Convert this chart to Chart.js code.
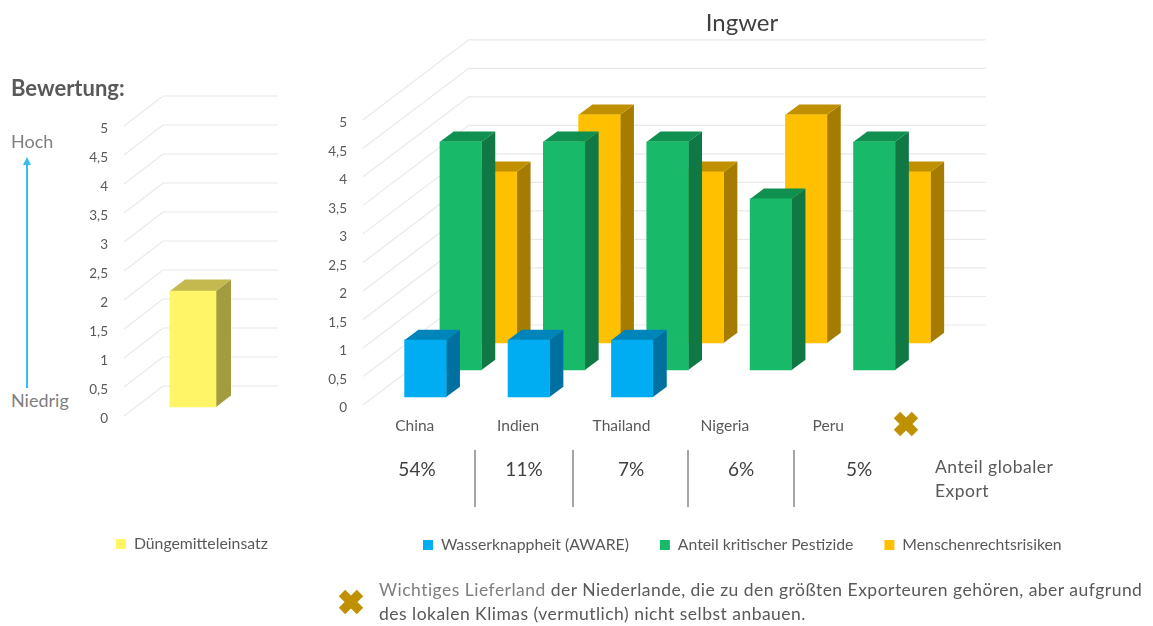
<!DOCTYPE html>
<html lang="de">
<head>
<meta charset="utf-8">
<title>Ingwer</title>
<script src="https://cdn.jsdelivr.net/npm/chart.js@4/dist/chart.umd.min.js"></script>
<style>
html, body { margin: 0; padding: 0; width: 1153px; height: 626px; overflow: hidden; background: #fff; }
body { position: relative; font-family: Lato, sans-serif; color: #595959; }
canvas { position: absolute; top: 0; }
.t { position: absolute; white-space: nowrap; line-height: 1; transform: translateY(-50%); }
.c { transform: translate(-50%, -50%); }
.note { font-size: 17.5px; letter-spacing: 0.48px; }
.rule { position: absolute; top: 450px; height: 57px; width: 2px; background: #a6a6a6; }
svg { position: absolute; overflow: visible; }
</style>
</head>
<body>
<canvas id="leftChart" width="231" height="626" style="left:80px"></canvas>
<canvas id="rightChart" width="862" height="626" style="left:311px"></canvas>

<div class="t" style="left:11px;top:88px;font-size:22px;font-weight:bold">Bewertung:</div>
<div class="t" style="left:11px;top:141px;font-size:18px;color:#7f7f7f">Hoch</div>
<div class="t" style="left:11px;top:400px;font-size:18px;color:#7f7f7f">Niedrig</div>
<svg style="left:0;top:0" width="60" height="400">
  <line x1="27" y1="164" x2="27" y2="388" stroke="#33bdf2" stroke-width="2"/>
  <polygon points="27,157 23,165 31,165" fill="#33bdf2"/>
</svg>

<div id="shares"></div>
<div class="t note" style="left:935px;top:467px">Anteil globaler</div>
<div class="t note" style="left:935px;top:491px">Export</div>

<svg style="left:906px;top:424px" width="1" height="1"><g stroke="#bf9000" stroke-width="9"><line x1="-9" y1="-9" x2="9" y2="9"/><line x1="-9" y1="9" x2="9" y2="-9"/></g></svg>
<svg style="left:351px;top:602px" width="1" height="1"><g stroke="#bf9000" stroke-width="9"><line x1="-9" y1="-9" x2="9" y2="9"/><line x1="-9" y1="9" x2="9" y2="-9"/></g></svg>

<div class="t note" style="left:379px;top:590px"><span style="color:#7f7f7f">Wichtiges Lieferland</span> der Niederlande, die zu den größten Exporteuren gehören, aber aufgrund</div>
<div class="t note" style="left:379px;top:614px">des lokalen Klimas (vermutlich) nicht selbst anbauen.</div>

<script>
var countries = ['China', 'Indien', 'Thailand', 'Nigeria', 'Peru'];
var water = [1, 1, 1, null, null];
var pesticides = [4, 4, 4, 3, 4];
var humanRights = [3, 4, 3, 4, 3];
var fertilizer = [2];
var exportShares = ['54%', '11%', '7%', '6%', '5%'];
var yTickLabels = ['0', '0,5', '1', '1,5', '2', '2,5', '3', '3,5', '4', '4,5', '5'];

var shareX = [417, 524, 631, 741, 859];
var ruleX = [474, 572, 687, 793];
var sharesBox = document.getElementById('shares');
exportShares.forEach(function (s, i) {
    sharesBox.innerHTML += '<div class="t c" style="left:' + shareX[i] + 'px;top:468px;font-size:19px;color:#404040">' + s + '</div>';
});
ruleX.forEach(function (x) {
    sharesBox.innerHTML += '<div class="rule" style="left:' + x + 'px"></div>';
});

// the walls and the side/top faces, all taken from the chart's scales
var fake3d = {
    id: 'fake3d',
    afterLayout: function (chart, args, opts) {
        chart.legend.left = opts.legendLeft;
    },
    beforeDatasetsDraw: function (chart, args, opts) {
        var ctx = chart.ctx, y = chart.scales.y, area = chart.chartArea;
        ctx.save();
        ctx.strokeStyle = '#e9e9e9';
        ctx.lineWidth = 1.2;
        y.ticks.forEach(function (t) {
            var py = y.getPixelForValue(t.value);
            ctx.beginPath();
            ctx.moveTo(area.left, py);
            ctx.lineTo(area.left + opts.depth[0], py + opts.depth[1]);
            ctx.lineTo(area.right + opts.depth[0], py + opts.depth[1]);
            ctx.stroke();
        });
        ctx.restore();
    },
    beforeDatasetDraw: function (chart, args, opts) {
        var ctx = chart.ctx, row = opts.rows[args.index], dx = opts.side[0], dy = opts.side[1];
        ctx.save();
        ctx.translate(row.x, row.y);
        args.meta.data.forEach(function (bar, i) {
            if (chart.data.datasets[args.index].data[i] === null) return;
            var l = bar.x - bar.width / 2, r = bar.x + bar.width / 2;
            ctx.fillStyle = row.sideColor;
            ctx.beginPath();
            ctx.moveTo(r, bar.y);
            ctx.lineTo(r + dx, bar.y + dy);
            ctx.lineTo(r + dx, bar.base + dy);
            ctx.lineTo(r, bar.base);
            ctx.fill();
            ctx.fillStyle = row.topColor;
            ctx.beginPath();
            ctx.moveTo(l, bar.y);
            ctx.lineTo(l + dx, bar.y + dy);
            ctx.lineTo(r + dx, bar.y + dy);
            ctx.lineTo(r, bar.y);
            ctx.fill();
        });
    },
    afterDatasetDraw: function (chart) {
        chart.ctx.restore();
    }
};

function yAxis(width) {
    return {
        min: 0,
        max: 5,
        border: { display: false },
        grid: { display: false, drawTicks: false },
        ticks: {
            stepSize: 0.5,
            padding: 16,
            labelOffset: 3,
            color: '#595959',
            font: { family: 'Lato', size: 13.5 },
            callback: function (v, i) { return yTickLabels[i]; }
        },
        afterFit: function (s) { s.width = width; }
    };
}

// empty axis on the right, it only keeps room for the back wall
function spacerAxis(width) {
    return {
        position: 'right',
        border: { display: false },
        grid: { display: false },
        ticks: { display: false },
        afterFit: function (s) { s.width = width; }
    };
}

var lCtx = document.getElementById('leftChart').getContext('2d');
var leftChart = new Chart(lCtx, {
    type: 'bar',
    data: {
        labels: ['Ingwer'],
        datasets: [{
            label: 'Düngemitteleinsatz',
            data: fertilizer,
            backgroundColor: '#fff567',
            barThickness: 46,
            clip: false
        }]
    },
    plugins: [fake3d],
    options: {
        responsive: false,
        animation: false,
        layout: { padding: { top: 126, bottom: 64 } },
        scales: {
            x: {
                border: { display: false },
                grid: { display: false },
                ticks: { display: false },
                afterFit: function (s) { s.height = 110.2; }
            },
            y: yAxis(44),
            spacer: spacerAxis(72)
        },
        plugins: {
            tooltip: { enabled: false },
            legend: {
                position: 'bottom',
                align: 'start',
                labels: { boxWidth: 10, boxHeight: 10, padding: 10, color: '#595959', font: { family: 'Lato', size: 15.8 } }
            },
            fake3d: {
                legendLeft: 26,
                depth: [39, -30],
                side: [15, -11.5],
                rows: [{ x: 11.5, y: -9, sideColor: '#a39b40', topColor: '#c3b94e' }]
            }
        }
    }
});

var rCtx = document.getElementById('rightChart').getContext('2d');
var rightChart = new Chart(rCtx, {
    type: 'bar',
    data: {
        labels: countries,
        datasets: [{
            label: 'Wasserknappheit (AWARE)',
            data: water,
            backgroundColor: '#00adf2',
            barThickness: 41.5,
            grouped: false,
            clip: false
        }, {
            label: 'Anteil kritischer Pestizide',
            data: pesticides,
            backgroundColor: '#18ba6a',
            barThickness: 41.5,
            grouped: false,
            clip: false
        }, {
            label: 'Menschenrechtsrisiken',
            data: humanRights,
            backgroundColor: '#ffc000',
            barThickness: 41.5,
            grouped: false,
            clip: false
        }]
    },
    plugins: [fake3d],
    options: {
        responsive: false,
        animation: false,
        layout: { padding: { bottom: 63 } },
        scales: {
            x: {
                border: { display: false },
                grid: { display: false, drawTicks: false },
                ticks: { padding: 12, color: '#595959', maxRotation: 0, font: { family: 'Lato', size: 15.5 } },
                afterFit: function (s) { s.height = 101.2; }
            },
            y: yAxis(52),
            spacer: spacerAxis(293)
        },
        plugins: {
            tooltip: { enabled: false },
            title: {
                display: true,
                text: 'Ingwer',
                color: '#404040',
                font: { family: 'Lato', size: 24, weight: 'normal' },
                padding: { top: 9, bottom: 82 }
            },
            legend: {
                position: 'bottom',
                align: 'start',
                labels: { boxWidth: 10, boxHeight: 10, padding: 31, color: '#595959', font: { family: 'Lato', size: 15.8 } }
            },
            fake3d: {
                legendLeft: 81,
                depth: [105.7, -80],
                side: [13.8, -10.3],
                rows: [
                    { x: 10.7, y: -8, sideColor: '#0070a0', topColor: '#0085ba' },
                    { x: 46, y: -35, sideColor: '#0f7845', topColor: '#0f9050' },
                    { x: 81.3, y: -62, sideColor: '#a67c00', topColor: '#bf9000' }
                ]
            }
        }
    }
});
</script>
</body>
</html>
